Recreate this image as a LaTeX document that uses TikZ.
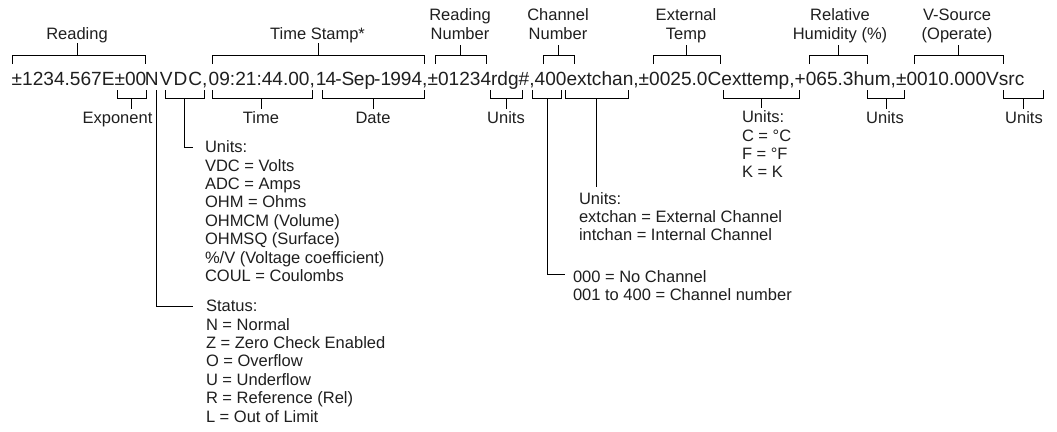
\documentclass[tikz,border=0pt]{standalone}
\usepackage{fontspec}
\setmainfont{Liberation Sans}
\newcommand\MainSz{\fontsize{19.1}{22}\selectfont}
\newcommand\LblSz{\fontsize{16.5}{18.4}\selectfont}
\newcommand\TopBr[4]{\draw[ln] (#1,64) -- (#1,55) -- (#2,55) -- (#2,64); \draw[ln] (#3,55) -- (#3,#4);}
\newcommand\BotBr[4]{\draw[ln] (#1,90) -- (#1,98) -- (#2,98) -- (#2,90); \draw[ln] (#3,98) -- (#3,#4);}
\begin{document}
\begin{tikzpicture}[x=1pt,y=-1pt,
  ln/.style={line width=0.85pt, black},
  lab/.style={inner sep=0pt, outer sep=0pt, font=\LblSz, text=black!88},
  lst/.style={lab, anchor=base west}]
\useasboundingbox (0,0) rectangle (1057,431);
\fill[white] (0,0) rectangle (1057,431);
% data string
\node[anchor=base west, inner sep=0pt, font=\MainSz, text=black!88] (data) at (11.5,85)
  {±1234.567E±00\kern-1.5pt N\kern1.2pt V\kern1pt D\kern1pt C,\kern1.3pt 09:21:44.00,\kern1pt 1\kern-0.8pt 4\kern-1pt-S\kern-0.5pt ep\kern-1pt-1\kern-0.8pt 994,±01234rdg\#,400extchan,±0025.0Cexttemp,+065.3hum,±0010.000Vsrc};
% top labels
\node[lab, anchor=base] (lread) at (77,39.3) {Reading};
\node[lab, anchor=base] (lts) at (317.5,39.3) {Time Stamp*};
\node[lab, anchor=base] (lrn) at (460,39.3) {\begin{tabular}[b]{@{}c@{}}Reading\\Number\end{tabular}};
\node[lab, anchor=base] (lcn) at (558,39.3) {\begin{tabular}[b]{@{}c@{}}Channel\\Number\end{tabular}};
\node[lab, anchor=base] (let) at (686,39.3) {\begin{tabular}[b]{@{}c@{}}External\\Temp\end{tabular}};
\node[lab, anchor=base] (lrh) at (840,39.3) {\begin{tabular}[b]{@{}c@{}}Relative\\Humidity (\%)\end{tabular}};
\node[lab, anchor=base] (lvs) at (957,39.3) {\begin{tabular}[b]{@{}c@{}}V-Source\\(Operate)\end{tabular}};
% top brackets
\TopBr{12.7}{145}{77}{43}
\TopBr{212}{424}{318}{43}
\TopBr{435}{486}{460}{45}
\TopBr{543}{574}{558}{45}
\TopBr{653}{720}{686}{45}
\TopBr{809}{867}{838}{45}
\TopBr{914}{1003}{958}{45}
% bottom labels
\node[lab, anchor=base] (lexp) at (117.5,123.5) {Exponent};
\node[lab, anchor=base] (ltime) at (261,123.5) {Time};
\node[lab, anchor=base] (ldate) at (373,123.5) {Date};
\node[lab, anchor=base] (lu1) at (506,123.5) {Units};
\node[lab, anchor=base] (lu2) at (885,123.5) {Units};
\node[lab, anchor=base] (lu3) at (1024,123.5) {Units};
\node[lst] (ltemp) at (742,122.7) {\begin{tabular}[t]{@{}l@{}}Units:\\C = °C\\F = °F\\K = K\end{tabular}};
\node[lst] (lvdc) at (205,152.7) {\begin{tabular}[t]{@{}l@{}}Units:\\VDC = Volts\\ADC = Amps\\OHM = Ohms\\OHMCM (Volume)\\OHMSQ (Surface)\\\%/V (Voltage coefficient)\\COUL = Coulombs\end{tabular}};
\node[lst] (lstat) at (206,311.7) {\begin{tabular}[t]{@{}l@{}}Status:\\N = Normal\\Z = Zero Check Enabled\\O = Overflow\\U = Underflow\\R = Reference (Rel)\\L = Out of Limit\end{tabular}};
\node[lst] (lext) at (579,204) {\begin{tabular}[t]{@{}l@{}}Units:\\extchan = External Channel\\intchan = Internal Channel\end{tabular}};
\node[lst] (lchan) at (573,282.5) {\begin{tabular}[t]{@{}l@{}}000 = No Channel\\001 to 400 = Channel number\end{tabular}};
% bottom brackets
\BotBr{117}{146}{131}{109}
\BotBr{165}{204}{184}{147}
\draw[ln] (184,147) -- (193,147);
\BotBr{212}{312}{261}{109}
\BotBr{322}{424}{373}{109}
\BotBr{490}{522}{506}{109}
\BotBr{532}{561}{547}{274}
\draw[ln] (547,274) -- (565,274);
\BotBr{565}{628}{596}{187}
\BotBr{723}{799}{761}{108}
\BotBr{867}{904}{886}{109}
\BotBr{1003}{1043}{1023}{109}
% status line
\draw[ln] (156,90) -- (156,306) -- (193,306);
\end{tikzpicture}
\end{document}
